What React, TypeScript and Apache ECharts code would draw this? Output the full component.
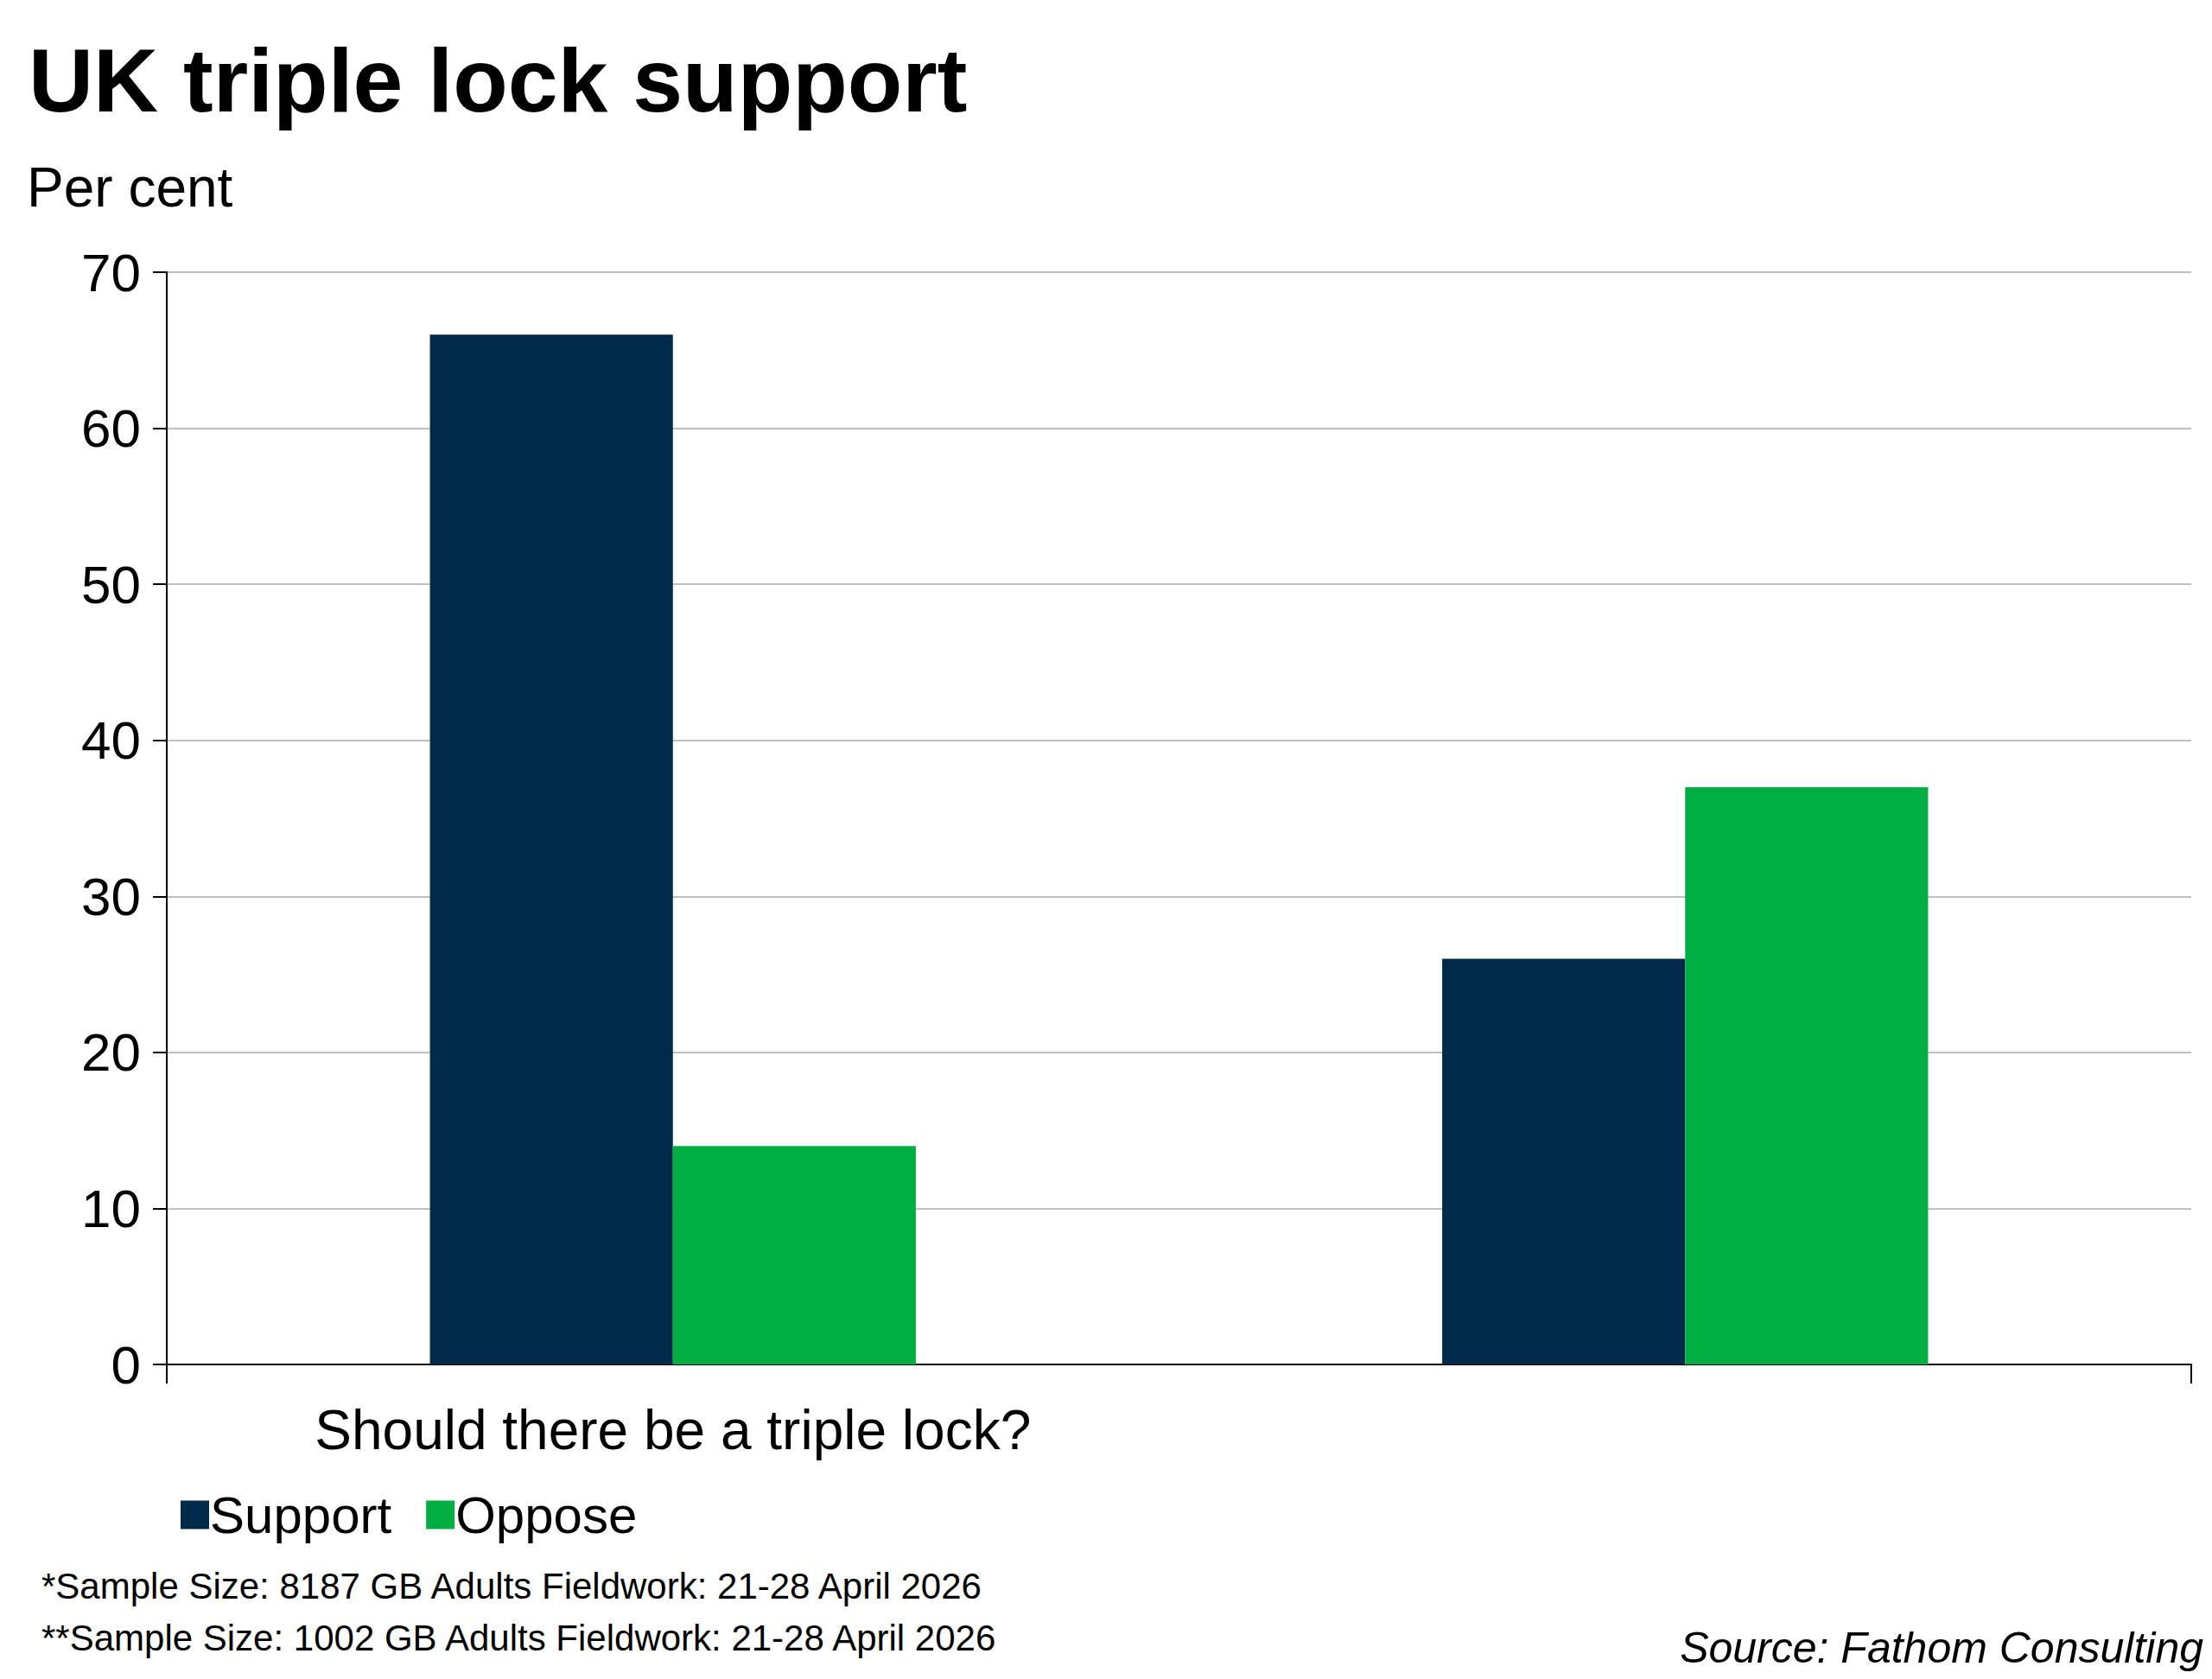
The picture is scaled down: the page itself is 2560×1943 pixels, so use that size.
import { useEffect, useRef } from "react";
import * as echarts from "echarts";

const categories = ["Should there be a triple lock?", "Should the triple lock be reformed?"];
const supportValues = [66, 26];
const opposeValues = [14, 37];
const footnotes = [
  "*Sample Size: 8187 GB Adults Fieldwork: 21-28 April 2026",
  "**Sample Size: 1002 GB Adults Fieldwork: 21-28 April 2026",
];

const FONT = "Liberation Sans, Arial, sans-serif";

export default function App() {
  const chartRef = useRef<HTMLDivElement>(null);

  useEffect(() => {
    if (!chartRef.current) return;
    const chart = echarts.init(chartRef.current, null, { renderer: "svg" });
    chart.setOption({
      animation: false,
      textStyle: { fontFamily: FONT },
      title: [
        {
          text: "UK triple lock support",
          left: 20,
          top: 28,
          textStyle: { fontSize: 104, fontWeight: "bold", color: "#000", fontFamily: FONT },
        },
        {
          text: "Per cent",
          left: 18,
          top: 172,
          textStyle: { fontSize: 64, fontWeight: "normal", color: "#000", fontFamily: FONT },
        },
      ],
      legend: {
        left: 196,
        top: 1710,
        itemWidth: 33,
        itemHeight: 33,
        itemGap: 40,
        icon: "rect",
        textStyle: { fontSize: 60, color: "#000", fontFamily: FONT, padding: [0, 0, 0, -4] },
        data: ["Support", "Oppose"],
      },
      grid: { left: 185, right: 16, top: 307, bottom: 356 },
      xAxis: {
        type: "category",
        data: categories,
        axisLine: { lineStyle: { color: "#000", width: 2 } },
        axisTick: { show: true, length: 22, lineStyle: { color: "#000", width: 2 } },
        axisLabel: { fontSize: 64, color: "#000", margin: 44, fontFamily: FONT },
      },
      yAxis: {
        type: "value",
        min: 0,
        max: 70,
        interval: 10,
        axisLine: { show: true, lineStyle: { color: "#000", width: 2 } },
        axisTick: { show: true, length: 16, lineStyle: { color: "#000", width: 2 } },
        axisLabel: { fontSize: 62, color: "#000", margin: 30, fontFamily: FONT },
        splitLine: { lineStyle: { color: "#bfbfbf", width: 2 } },
      },
      series: [
        {
          name: "Support",
          type: "bar",
          data: supportValues,
          itemStyle: { color: "#002a4a" },
          barGap: "0%",
          barCategoryGap: "52%",
        },
        {
          name: "Oppose",
          type: "bar",
          data: opposeValues,
          itemStyle: { color: "#00ae42" },
        },
      ],
      graphic: [
        {
          type: "text",
          left: 40,
          top: 1806,
          style: { text: footnotes[0], fontSize: 42, fill: "#000", fontFamily: FONT },
        },
        {
          type: "text",
          left: 40,
          top: 1866,
          style: { text: footnotes[1], fontSize: 42, fill: "#000", fontFamily: FONT },
        },
        {
          type: "text",
          right: 2,
          top: 1874,
          style: {
            text: "Source: Fathom Consulting",
            fontSize: 50,
            fontStyle: "italic",
            fill: "#000",
            fontFamily: FONT,
          },
        },
      ],
    });
    return () => chart.dispose();
  }, []);

  return <div ref={chartRef} style={{ width: 2544, height: 1927 }} />;
}
